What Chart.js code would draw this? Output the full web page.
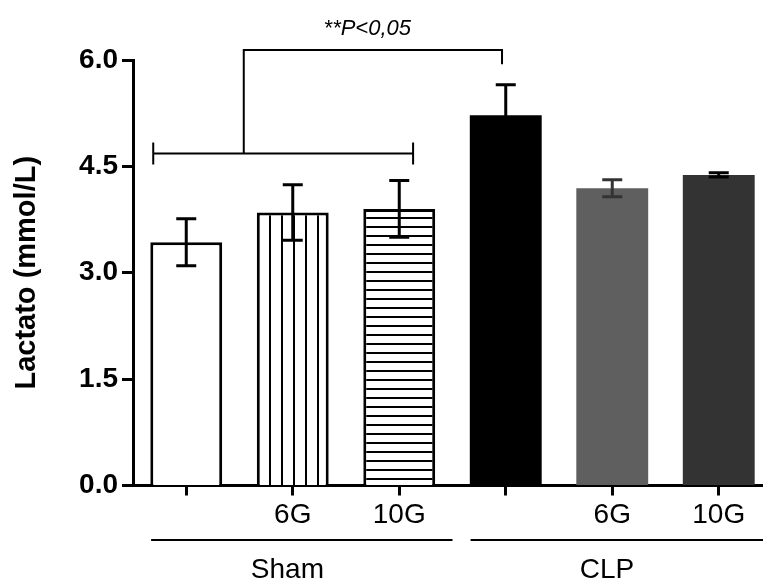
<!DOCTYPE html>
<html>
<head>
<meta charset="utf-8">
<script src="https://cdn.jsdelivr.net/npm/chart.js@4.4.1/dist/chart.umd.min.js"></script>
<style>
  html, body { margin: 0; padding: 0; width: 763px; height: 584px; overflow: hidden; background: #fff; }
  #wrap { position: absolute; left: 0; top: 0; width: 772px; height: 584px; }
</style>
</head>
<body>
<div id="wrap"><canvas id="lactatoChart" width="772" height="584"></canvas></div>
<script>
// data
const categories = ['', '6G', '10G', '', '6G', '10G'];
const lactatoMean = [3.43, 3.85, 3.90, 5.22, 4.19, 4.38];
const lactatoErr = [0.33, 0.39, 0.40, 0.43, 0.12, 0.03];
const groupNames = ['Sham', 'CLP'];
const groupRanges = [[0, 2], [3, 5]];
const yTicks = [0, 1.5, 3.0, 4.5, 6.0];

// significance bracket (x in category units, y in mmol/L)
const bracket = { from: -0.31, to: 2.13, stem: 0.54, target: 2.965, low: 4.68, high: 6.14, drop: 5.94, textAt: 1.70, text: '**P<0,05' };

const FONT = "'Liberation Sans', Arial, Helvetica, sans-serif";
Chart.defaults.font.family = FONT;
Chart.defaults.color = '#000';

const canvas = document.getElementById('lactatoChart');
const ctx = canvas.getContext('2d');

function stripes(vertical) {
  const p = document.createElement('canvas');
  p.width = vertical ? 12 : 4;
  p.height = vertical ? 4 : 9;
  const c = p.getContext('2d');
  c.fillStyle = '#fff';
  c.fillRect(0, 0, p.width, p.height);
  c.fillStyle = '#000';
  if (vertical) c.fillRect(5, 0, 2, p.height);
  else c.fillRect(0, 1, p.width, 2);
  return ctx.createPattern(p, 'repeat');
}

const fills = ['#ffffff', stripes(true), stripes(false), '#000000', '#5f5f5f', '#333333'];
const borderWidths = [3, 3, 3, 0, 0, 0];
const errColors = ['#000', '#000', '#000', '#000', '#333', '#000'];

const errorBars = {
  id: 'errorBars',
  afterDatasetsDraw(chart) {
    const { ctx, scales: { x, y } } = chart;
    ctx.save();
    ctx.lineWidth = 3;
    lactatoMean.forEach((m, i) => {
      const cx = x.getPixelForValue(i);
      const top = y.getPixelForValue(m + lactatoErr[i]);
      const bot = y.getPixelForValue(m - lactatoErr[i]);
      ctx.strokeStyle = errColors[i];
      ctx.beginPath();
      ctx.moveTo(cx, top); ctx.lineTo(cx, bot);
      ctx.moveTo(cx - 10, top); ctx.lineTo(cx + 10, top);
      ctx.moveTo(cx - 10, bot); ctx.lineTo(cx + 10, bot);
      ctx.stroke();
    });
    ctx.restore();
  }
};

const annotations = {
  id: 'annotations',
  afterDraw(chart) {
    const { ctx, scales: { x, y } } = chart;
    ctx.save();
    ctx.strokeStyle = '#000';
    ctx.fillStyle = '#000';

    // bracket
    ctx.lineWidth = 2;
    const yl = y.getPixelForValue(bracket.low);
    const yh = y.getPixelForValue(bracket.high);
    const yd = y.getPixelForValue(bracket.drop);
    const x0 = x.getPixelForValue(bracket.from);
    const x1 = x.getPixelForValue(bracket.to);
    const xs = x.getPixelForValue(bracket.stem);
    const xt = x.getPixelForValue(bracket.target);
    ctx.beginPath();
    ctx.moveTo(x0, yl); ctx.lineTo(x1, yl);
    ctx.moveTo(x0, yl - 11); ctx.lineTo(x0, yl + 11);
    ctx.moveTo(x1, yl - 11); ctx.lineTo(x1, yl + 11);
    ctx.moveTo(xs, yl); ctx.lineTo(xs, yh); ctx.lineTo(xt, yh); ctx.lineTo(xt, yd);
    ctx.stroke();
    ctx.font = 'italic 22px ' + FONT;
    ctx.textAlign = 'center';
    ctx.textBaseline = 'middle';
    ctx.fillText(bracket.text, x.getPixelForValue(bracket.textAt), yh - 21);

    // group labels under the axis
    ctx.lineWidth = 2;
    ctx.font = '28px ' + FONT;
    groupNames.forEach((name, g) => {
      const [a, b] = groupRanges[g];
      const la = x.getPixelForValue(a - 0.33);
      const lb = x.getPixelForValue(b + 0.5);
      ctx.beginPath();
      ctx.moveTo(la, 540); ctx.lineTo(lb, 540);
      ctx.stroke();
      ctx.fillText(name, x.getPixelForValue((a + b) / 2 - 0.05), 570);
    });
    ctx.restore();
  }
};

new Chart(ctx, {
  type: 'bar',
  data: {
    labels: categories,
    datasets: [{
      data: lactatoMean,
      backgroundColor: fills,
      borderColor: '#000',
      borderWidth: borderWidths,
      borderSkipped: 'start',
      categoryPercentage: 1,
      barPercentage: 0.675
    }]
  },
  options: {
    responsive: false,
    animation: false,
    layout: { padding: { top: 60, left: 0, right: 0, bottom: 0 } },
    plugins: { legend: { display: false }, tooltip: { enabled: false } },
    scales: {
      x: {
        grid: { offset: false, drawOnChartArea: false, drawTicks: true, tickLength: 10, tickWidth: 3, tickColor: '#000' },
        border: { color: '#000', width: 3 },
        ticks: { font: { size: 28 }, padding: 3, maxRotation: 0, autoSkip: false },
        afterFit(s) { s.height = 98.5; }
      },
      y: {
        min: 0,
        max: 6,
        afterBuildTicks(s) { s.ticks = yTicks.map(v => ({ value: v })); },
        grid: { drawOnChartArea: false, drawTicks: true, tickLength: 11, tickWidth: 3, tickColor: '#000' },
        border: { color: '#000', width: 3 },
        ticks: { font: { size: 28, weight: 'bold' }, padding: 4, callback: v => v.toFixed(1) },
        title: { display: true, text: 'Lactato (mmol/L)', font: { size: 29, weight: 'bold' }, padding: { top: 10, bottom: 0 } },
        afterFit(s) { s.width = 133; }
      }
    }
  },
  plugins: [errorBars, annotations]
});
</script>
</body>
</html>
